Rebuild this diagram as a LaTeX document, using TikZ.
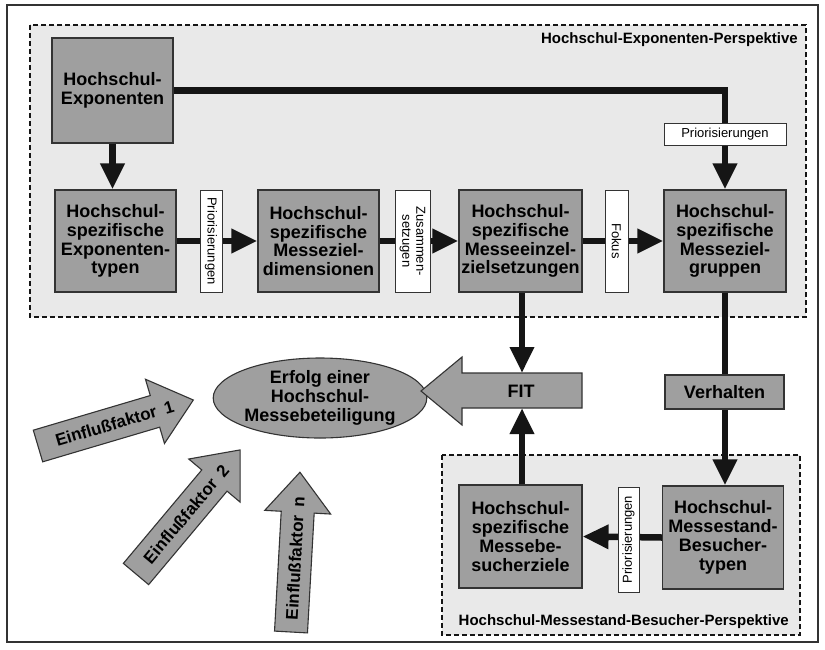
\documentclass[tikz,border=0pt]{standalone}
\usepackage{fontspec}
\setmainfont{Liberation Sans}
\usetikzlibrary{arrows.meta,shapes.geometric}
\definecolor{boxgray}{HTML}{9F9F9F}
\definecolor{regiongray}{HTML}{E9E9E9}
\definecolor{edgec}{HTML}{333333}
\definecolor{ink}{HTML}{151515}
\newcommand\bxfont{\fontsize{18}{18.8}\selectfont\bfseries}
\newcommand\lbfont{\fontsize{13}{14}\selectfont}
\newcommand\ttlfont{\fontsize{15}{17}\selectfont\bfseries}
\newcommand\inffont{\fontsize{17}{18}\selectfont\bfseries}
\tikzset{
  box/.style={draw=edgec, line width=1.1pt, fill=boxgray, minimum width=121pt, minimum height=102pt, inner sep=0pt, align=center, font=\bxfont},
  lbl/.style={draw=edgec, line width=0.9pt, fill=white, inner sep=0pt, align=center, font=\lbfont},
  conn/.style={draw=ink, line width=6.5pt, -{Triangle[length=26pt,width=23pt]}},
  region/.style={draw=ink, dash pattern=on 5pt off 3pt, line width=1.2pt, fill=regiongray},
  bigarrow/.style={draw=edgec, line width=1.1pt, fill=boxgray},
}
\begin{document}
\begin{tikzpicture}[x=1pt,y=-1pt]
\fill[white] (0,0) rectangle (825,649);
\useasboundingbox (0,0) rectangle (825,649);
\draw[edgec, line width=1.5pt] (7,5) rectangle (818,642);
% regions
\draw[region] (30,25) rectangle (806,317);
\draw[region] (442,455) rectangle (800,635);
\node[anchor=east, font=\ttlfont, inner sep=0pt] (t1) at (798,40) {Hochschul-Exponenten-Perspektive};
\node[anchor=east, font=\ttlfont, inner sep=0pt] (t2) at (789,622) {Hochschul-Messestand-Besucher-Perspektive};
% boxes
\node[box, minimum height=105pt] (expo) at (112.5,90.5) {Hochschul-\\Exponenten};
\node[box] (b1) at (115.5,241) {Hochschul-\\spezifische\\Exponenten-\\typen};
\node[box] (b2) at (318.5,241) {Hochschul-\\spezifische\\Messeziel-\\dimensionen};
\node[box, minimum width=123pt] (me) at (520.5,241) {Hochschul-\\spezifische\\Messeeinzel-\\zielsetzungen};
\node[box, minimum width=122pt] (zg) at (725,241) {Hochschul-\\spezifische\\Messeziel-\\gruppen};
\node[box, minimum width=123pt, minimum height=103pt] (bl) at (520.5,536.5) {Hochschul-\\spezifische\\Messebe-\\sucherziele};
\node[box, minimum height=103pt] (br) at (723,537.5) {Hochschul-\\Messestand-\\Besucher-\\typen};
% ellipse
\node[ellipse, draw=edgec, line width=1.1pt, fill=boxgray, minimum width=195pt, minimum height=80pt, inner sep=0pt, align=center, font=\bxfont] (erf) at (320,398) {Erfolg einer\\Hochschul-\\Messebeteiligung};
% FIT arrow
\draw[bigarrow] (582,373) -- (462,373) -- (462,357) -- (421,391) -- (462,425) -- (462,408) -- (582,408) -- cycle;
\node[font=\bxfont, inner sep=0pt] (fit) at (521,391) {FIT};
\coordinate (fitT) at (522,373);
\coordinate (fitB) at (522,408);
% connectors
\draw[conn] (expo.south) -- (expo.south |- b1.north);
\draw[conn] (expo.east) -| (zg.north);
\draw[conn] (b1.east) -- (b2.west);
\draw[conn] (b2.east) -- (me.west);
\draw[conn] (me.east) -- (zg.west);
\draw[conn] (me.south -| fitT) -- (fitT);
\draw[conn] (bl.north -| fitB) -- (fitB);
\draw[conn] (zg.south) -- (zg.south |- br.north);
\draw[conn] (br.west) -- (bl.east);
% labels
\node[lbl, rotate=-90, minimum width=102pt, minimum height=22pt] (l1) at (211,241) {Priorisierungen};
\node[lbl, rotate=-90, minimum width=102pt, minimum height=35pt] (l2) at (412.5,241) {Zusammen-\\setzugen};
\node[lbl, rotate=-90, minimum width=102pt, minimum height=23pt] (l3) at (616.5,241) {Fokus};
\node[lbl, minimum width=122pt, minimum height=22pt] (l4) at (725,134) {Priorisierungen};
\node[lbl, rotate=90, minimum width=105pt, minimum height=21pt] (l5) at (628.5,539.5) {Priorisierungen};
\node[box, minimum width=119pt, minimum height=34pt] (verh) at (724.5,392) {Verhalten};
% influence arrows
\begin{scope}[shift={(38,446)}, rotate=16.5]
\draw[bigarrow] (0,-16.5) -- (122,-16.5) -- (122,-33.5) -- (162,0) -- (122,33.5) -- (122,16.5) -- (0,16.5) -- cycle;
\node[font=\inffont, rotate=16.5, inner sep=0pt] (e1) at (80,0) {Einflußfaktor\hspace{0.5em}1};
\end{scope}
\begin{scope}[shift={(136,574)}, rotate=50]
\draw[bigarrow] (0,-16.5) -- (122,-16.5) -- (122,-33.5) -- (162,0) -- (122,33.5) -- (122,16.5) -- (0,16.5) -- cycle;
\node[font=\inffont, rotate=50, inner sep=0pt] (e2) at (78,0) {Einflußfaktor\hspace{0.5em}2};
\end{scope}
\begin{scope}[shift={(291,632)}, rotate=86.8]
\draw[bigarrow] (0,-16.5) -- (120,-16.5) -- (120,-33) -- (160,0) -- (120,33) -- (120,16.5) -- (0,16.5) -- cycle;
\node[font=\inffont, rotate=86.8, inner sep=0pt] (en) at (74,0) {Einflußfaktor\hspace{0.5em}n};
\end{scope}
\end{tikzpicture}
\end{document}
